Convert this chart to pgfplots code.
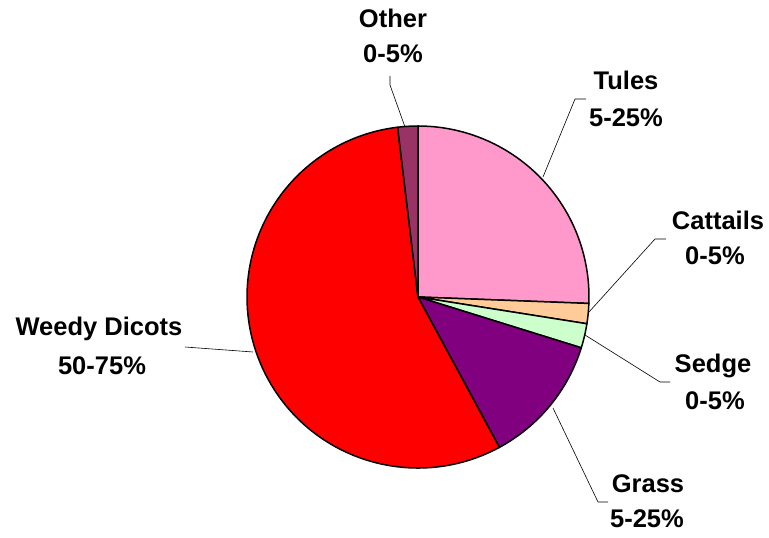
\documentclass[border=0pt]{standalone}
\usepackage{pgfplots}
\pgfplotsset{compat=1.18}
\usepackage{fontspec}
\setmainfont{Liberation Sans}
\definecolor{tules}{HTML}{FF99CC}
\definecolor{cattails}{HTML}{FFCC99}
\definecolor{sedge}{HTML}{CCFFCC}
\definecolor{grass}{HTML}{800080}
\definecolor{weedy}{HTML}{FF0000}
\definecolor{other}{HTML}{993366}
\begin{document}
\begin{tikzpicture}
\begin{axis}[
    x=1pt, y=1pt, scale only axis,
    xmin=0, xmax=769, ymin=0, ymax=538,
    hide axis, clip=false,
]
\path (axis cs:0,0) rectangle (axis cs:769,538);
% slices, clockwise from 12 o'clock (share in percent)
\xdef\angA{90}
\foreach \v/\c in {25.6/tules, 1.9/cattails, 2.3/sedge, 12.3/grass, 56.0/weedy, 1.9/other}{%
  \pgfmathsetmacro\angB{\angA-3.6*\v}
  \edef\temp{\noexpand\filldraw[fill=\c, draw=black, line width=1.5pt, line join=round]
    (axis cs:418,241) -- ++(\angA:171pt) arc[start angle=\angA, end angle=\angB, radius=171pt] -- cycle;}
  \temp
  \xdef\angA{\angB}
}
% leader lines
\draw[black, line width=0.6pt] (axis cs:405,411) -- (axis cs:390,453) -- (axis cs:390,462);
\draw[black, line width=0.6pt] (axis cs:543,361) -- (axis cs:575,439) -- (axis cs:586,439);
\draw[black, line width=0.6pt] (axis cs:589,226) -- (axis cs:655,299) -- (axis cs:666,299);
\draw[black, line width=0.6pt] (axis cs:585,203) -- (axis cs:660,156) -- (axis cs:670,156);
\draw[black, line width=0.6pt] (axis cs:553,130) -- (axis cs:598,36) -- (axis cs:608,36);
\draw[black, line width=0.6pt] (axis cs:185,191) -- (axis cs:253,186);
% labels
\tikzset{lbl/.style={anchor=base, inner sep=0pt, font=\bfseries\fontsize{25.5}{30}\selectfont}}
\node[lbl] at (axis cs:393,510) {Other};
\node[lbl] at (axis cs:393,475) {0-5\%};
\node[lbl] at (axis cs:626,448) {Tules};
\node[lbl] at (axis cs:626,411) {5-25\%};
\node[lbl] at (axis cs:718,308) {Cattails};
\node[lbl] at (axis cs:715,273) {0-5\%};
\node[lbl] at (axis cs:713,165) {Sedge};
\node[lbl] at (axis cs:715,128) {0-5\%};
\node[lbl] at (axis cs:648,45) {Grass};
\node[lbl] at (axis cs:647,10) {5-25\%};
\node[lbl] at (axis cs:99,202) {Weedy Dicots};
\node[lbl] at (axis cs:102,163) {50-75\%};
\end{axis}
\end{tikzpicture}
\end{document}
